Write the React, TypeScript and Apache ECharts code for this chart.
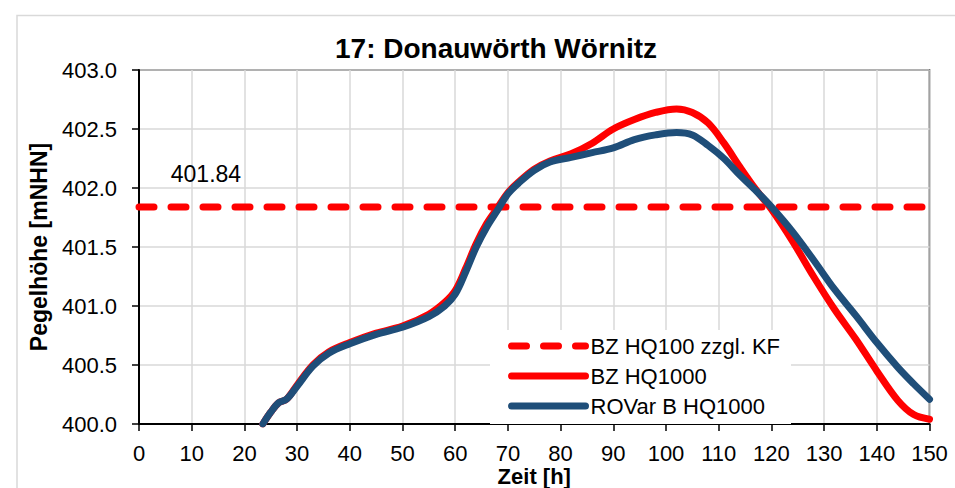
import React, { useEffect, useRef } from "react";
import * as echarts from "echarts";

const TITLE = "17: Donauwörth Wörnitz";
const X_NAME = "Zeit [h]";
const Y_NAME = "Pegelhöhe [mNHN]";
const SERIES_NAMES = ["BZ HQ100 zzgl. KF", "BZ HQ1000", "ROVar B HQ1000"];

const REF_LEVEL = 401.84;
const REF_HOURS = [0, 150];
const REF_LABEL_HOUR = 12.7;

const hours = [
  23.5, 25, 26.5, 28, 30, 33, 36, 40, 45, 50, 55, 58, 60, 62, 64, 66, 68, 70, 72, 75,
  78, 82, 86, 90, 94, 98, 102, 105, 108, 111, 114, 117, 120, 124, 128, 132, 136, 140,
  144, 147, 150,
];

const bzHQ1000 = [
  400.0, 400.1, 400.18, 400.21, 400.33, 400.5, 400.61, 400.69, 400.77, 400.83, 400.93,
  401.03, 401.13, 401.32, 401.53, 401.7, 401.83, 401.96, 402.05, 402.16, 402.23, 402.29,
  402.38, 402.5, 402.58, 402.64, 402.67, 402.64, 402.55, 402.38, 402.18, 401.99, 401.82,
  401.55, 401.25, 400.97, 400.72, 400.45, 400.2, 400.08, 400.04,
];

const roVarB = [
  400.0, 400.1, 400.18, 400.21, 400.32, 400.49, 400.6, 400.68, 400.76, 400.82, 400.91,
  401.0, 401.1, 401.29, 401.5, 401.67, 401.81, 401.95, 402.04, 402.15, 402.22, 402.26,
  402.3, 402.34, 402.41, 402.45, 402.47, 402.45, 402.36, 402.25, 402.11, 401.98, 401.84,
  401.63, 401.39, 401.14, 400.92, 400.69, 400.48, 400.34, 400.21,
];

const FONT = "'Liberation Sans', Arial, sans-serif";

export default function App() {
  const ref = useRef<HTMLDivElement>(null);

  useEffect(() => {
    document.body.style.margin = "0";
    if (!ref.current) return;
    const chart = echarts.init(ref.current, undefined, { renderer: "svg" });

    chart.setOption({
      animation: false,
      backgroundColor: "#fff",
      textStyle: { fontFamily: FONT },
      title: {
        text: TITLE,
        left: 491,
        textAlign: "center",
        top: 29,
        textStyle: { fontSize: 28, fontWeight: "bold", color: "#000", fontFamily: FONT },
      },
      graphic: [
        {
          type: "rect",
          shape: { x: 17, y: 15.5, width: 980, height: 520 },
          style: { fill: "none", stroke: "#d9d9d9", lineWidth: 1.5 },
          silent: true,
          z: -1,
        },
      ],
      grid: {
        left: 139,
        right: 25.5,
        top: 70,
        bottom: 64,
        outerBoundsMode: "none",
        containLabel: false,
        show: true,
        borderColor: "#000",
        borderWidth: 1.5,
        backgroundColor: "transparent",
      },
      legend: {
        orient: "vertical",
        left: 490,
        top: 330,
        padding: [5, 11, 7, 18],
        itemWidth: 74,
        itemHeight: 14,
        itemGap: 8,
        backgroundColor: "#fff",
        itemStyle: { opacity: 0 },
        lineStyle: { width: 7, cap: "round" },
        textStyle: { fontSize: 22, color: "#000", fontFamily: FONT },
        data: SERIES_NAMES,
      },
      xAxis: {
        type: "value",
        min: 0,
        max: 150,
        interval: 10,
        name: X_NAME,
        nameLocation: "middle",
        nameGap: 41,
        nameMoveOverlap: false,
        nameTextStyle: { fontSize: 22, fontWeight: "bold", color: "#000", fontFamily: FONT, lineHeight: 22 },
        axisLine: { show: true, lineStyle: { color: "#000", width: 2 } },
        axisTick: { show: true, length: 7, lineStyle: { color: "#000", width: 1.5 } },
        axisLabel: { fontSize: 22, color: "#000", margin: 18, fontFamily: FONT },
        splitLine: { show: true, lineStyle: { color: "#d9d9d9", width: 1.5 } },
      },
      yAxis: {
        type: "value",
        min: 400,
        max: 403,
        interval: 0.5,
        name: Y_NAME,
        nameLocation: "middle",
        nameGap: 89,
        nameMoveOverlap: false,
        nameTextStyle: { fontSize: 23, fontWeight: "bold", color: "#000", fontFamily: FONT },
        axisLine: { show: true, lineStyle: { color: "#000", width: 2 } },
        axisTick: { show: true, length: 7, lineStyle: { color: "#000", width: 1.5 } },
        axisLabel: {
          fontSize: 22,
          color: "#000",
          margin: 22,
          fontFamily: FONT,
          formatter: (v: number) => v.toFixed(1),
        },
        splitLine: { show: true, lineStyle: { color: "#d9d9d9", width: 1.5 } },
      },
      series: [
        {
          name: SERIES_NAMES[0],
          type: "line",
          data: REF_HOURS.map((h) => [h, REF_LEVEL]),
          symbol: "none",
          showSymbol: false,
          lineStyle: { color: "#ff0000", width: 7, type: [15, 17], cap: "round" },
          itemStyle: { color: "#ff0000" },
          z: 2,
        },
        {
          name: SERIES_NAMES[1],
          type: "line",
          data: hours.map((h, i) => [h, bzHQ1000[i]]),
          symbol: "none",
          showSymbol: false,
          smooth: 0.35,
          lineStyle: { color: "#ff0000", width: 7, cap: "round", join: "round" },
          itemStyle: { color: "#ff0000" },
          z: 3,
        },
        {
          name: SERIES_NAMES[2],
          type: "line",
          data: hours.map((h, i) => [h, roVarB[i]]),
          symbol: "none",
          showSymbol: false,
          smooth: 0.35,
          lineStyle: { color: "#1f4e79", width: 7, cap: "round", join: "round" },
          itemStyle: { color: "#1f4e79" },
          z: 4,
        },
        {
          name: "label",
          type: "scatter",
          data: [[REF_LABEL_HOUR, REF_LEVEL]],
          symbolSize: 0,
          silent: true,
          itemStyle: { opacity: 1 },
          label: {
            show: true,
            position: "top",
            distance: 21,
            formatter: REF_LEVEL.toFixed(2),
            fontSize: 23,
            color: "#000",
            opacity: 1,
            fontFamily: FONT,
          },
          z: 5,
        },
      ],
    });

    return () => chart.dispose();
  }, []);

  return (
    <div
      ref={ref}
      style={{ position: "fixed", left: 0, top: 0, width: 955, height: 488 }}
    />
  );
}
